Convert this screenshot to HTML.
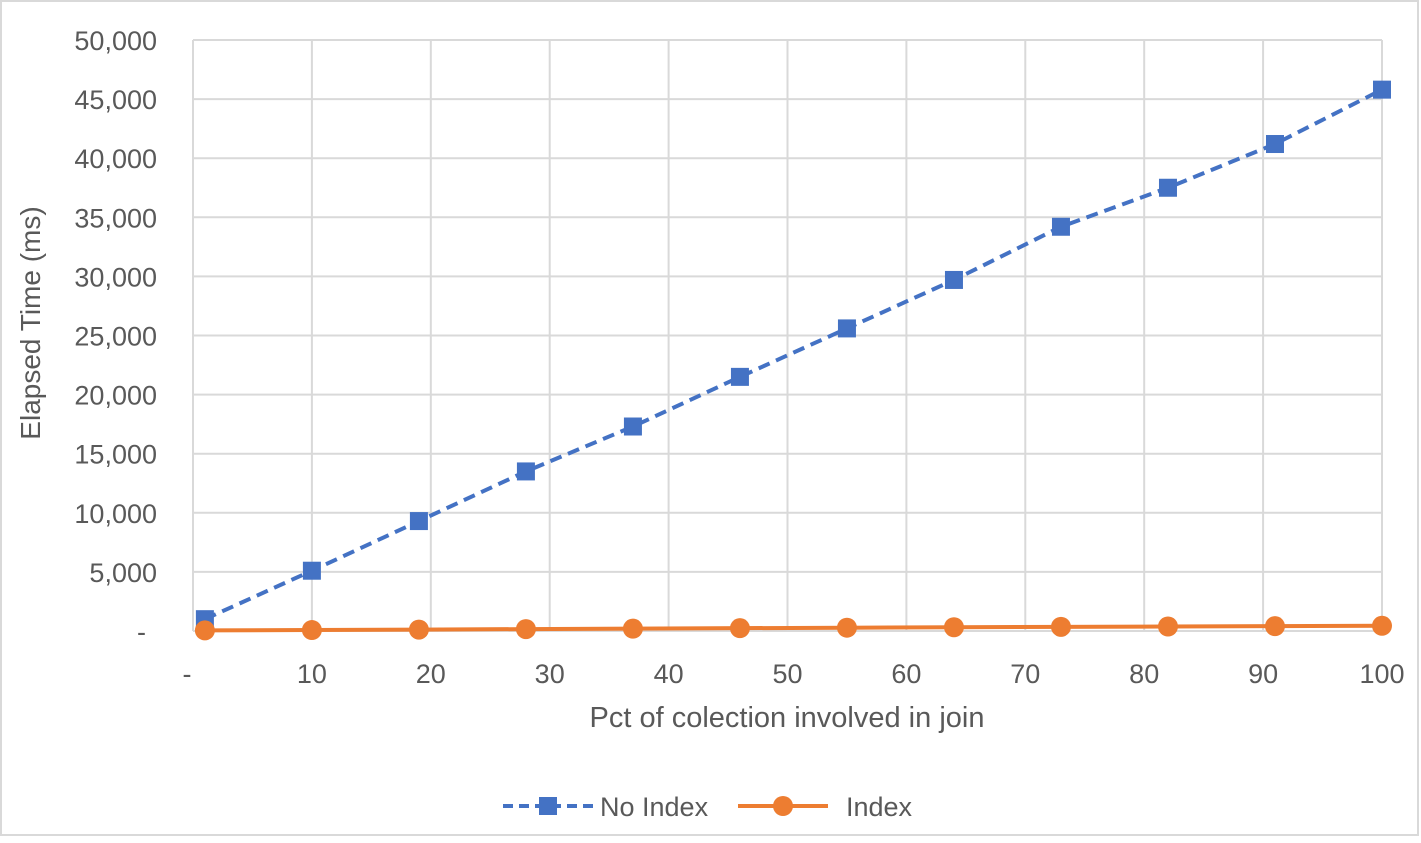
<!DOCTYPE html>
<html><head><meta charset="utf-8"><style>
body{margin:0;background:#fff;}
svg text{font-family:"Liberation Sans",sans-serif;fill:#595959;}
</style></head><body>
<svg width="1421" height="838">
<rect x="1" y="1" width="1417" height="834" fill="#fff" stroke="#d9d9d9" stroke-width="2"/>
<g id="grid"></g><g id="marks"></g><g id="labels"></g>
<text x="40" y="323" font-size="28" text-anchor="middle" transform="rotate(-90 40 323)">Elapsed Time (ms)</text>
<text x="787" y="727" font-size="29" text-anchor="middle">Pct of colection involved in join</text>
<g>
<line x1="503" y1="806" x2="593" y2="806" stroke="#4472c4" stroke-width="4" stroke-dasharray="10,6"/>
<rect x="539" y="797" width="18" height="18" fill="#4472c4"/>
<text x="600" y="816" font-size="27">No Index</text></g>
<g>
<line x1="738" y1="806" x2="828" y2="806" stroke="#ed7d31" stroke-width="4"/>
<circle cx="783" cy="806" r="10" fill="#ed7d31"/>
<text x="846" y="816" font-size="27">Index</text></g>
</svg>
<script>
const xValues=[1,10,19,28,37,46,55,64,73,82,91,100];
const noIndex=[1000,5100,9300,13500,17300,21500,25600,29700,34200,37500,41200,45800];
const indexVals=[50,80,120,160,200,240,280,320,350,380,410,440];
const yTicks=[0,5000,10000,15000,20000,25000,30000,35000,40000,45000,50000];
const xTicks=[0,10,20,30,40,50,60,70,80,90,100];
const NS="http://www.w3.org/2000/svg";
const X=v=>193+v*11.89, Y=v=>631-v*591/50000;
const g=document.getElementById('grid'),m=document.getElementById('marks'),l=document.getElementById('labels');
function mk(p,tag,a){const e=document.createElementNS(NS,tag);for(const k in a)e.setAttribute(k,a[k]);p.appendChild(e);return e;}
const fmt=v=>v===0?'-':v.toLocaleString('en-US');
yTicks.forEach(v=>{const ln=mk(g,'line',{x1:193,x2:1382,y1:Y(v),y2:Y(v),stroke:'#d9d9d9','stroke-width':2});


const t=mk(l,'text',{x:v===0?146:157,y:Y(v)+10,'font-size':27,'text-anchor':'end'});t.textContent=fmt(v);

});
xTicks.forEach(v=>{const ln=mk(g,'line',{x1:X(v),x2:X(v),y1:Y(0),y2:Y(50000),stroke:'#d9d9d9','stroke-width':2});


const t=mk(l,'text',{x:v===0?187:X(v),y:683,'font-size':27,'text-anchor':'middle'});t.textContent=fmt(v);

});
const p1=mk(m,'polyline',{points:xValues.map((x,i)=>X(x)+','+Y(noIndex[i])).join(' '),fill:'none',stroke:'#4472c4','stroke-width':4,'stroke-dasharray':'12,7'});


xValues.forEach((x,i)=>{const r=mk(m,'rect',{x:X(x)-9,y:Y(noIndex[i])-9,width:18,height:18,fill:'#4472c4'});

});
const p2=mk(m,'polyline',{points:xValues.map((x,i)=>X(x)+','+Y(indexVals[i])).join(' '),fill:'none',stroke:'#ed7d31','stroke-width':4});


xValues.forEach((x,i)=>{const c=mk(m,'circle',{cx:X(x),cy:Y(indexVals[i]),r:10,fill:'#ed7d31'});

});
</script>
</body></html>
